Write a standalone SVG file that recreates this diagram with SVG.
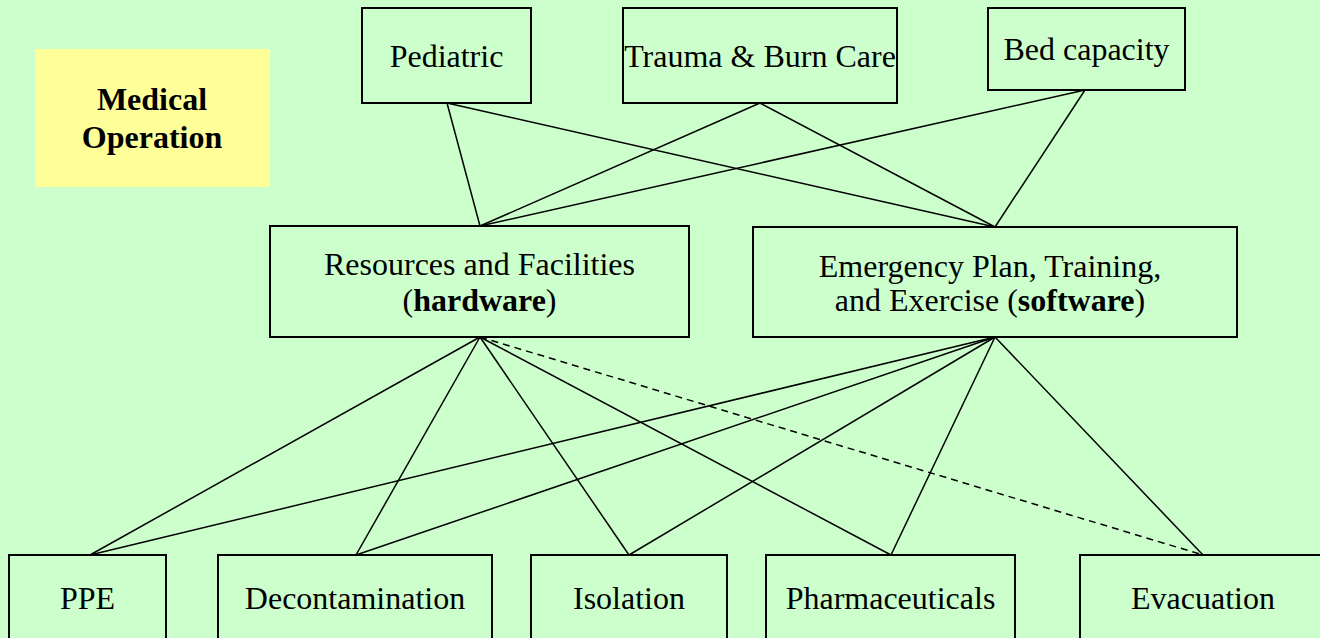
<svg xmlns="http://www.w3.org/2000/svg" width="1320" height="638" viewBox="0 0 1320 638">
<style>
.box{fill:#CCFFCC;stroke:#000;stroke-width:2}
.t{font-family:"Liberation Serif","Times New Roman",serif;font-size:32px;fill:#000;text-anchor:middle}
.b{font-weight:bold}
.c line{stroke:#000;stroke-width:1.5}
.c .d{stroke-dasharray:7 5}
</style>
<rect x="0" y="0" width="1320" height="638" fill="#CCFFCC"/>
<g class="c" id="connectors">
<line x1="447" y1="103" x2="480" y2="226"/>
<line x1="447" y1="103" x2="995" y2="227"/>
<line x1="760" y1="103" x2="480" y2="226"/>
<line x1="760" y1="103" x2="995" y2="227"/>
<line x1="1085" y1="90" x2="480" y2="226"/>
<line x1="1085" y1="90" x2="995" y2="227"/>
<line x1="480" y1="337" x2="90" y2="555"/>
<line x1="480" y1="337" x2="356" y2="555"/>
<line x1="480" y1="337" x2="629" y2="555"/>
<line x1="480" y1="337" x2="891" y2="555"/>
<line class="d" x1="480" y1="337" x2="1203" y2="555"/>
<line x1="995" y1="337" x2="90" y2="555"/>
<line x1="995" y1="337" x2="356" y2="555"/>
<line x1="995" y1="337" x2="629" y2="555"/>
<line x1="995" y1="337" x2="891" y2="555"/>
<line x1="995" y1="337" x2="1203" y2="555"/>
</g>
<g id="medical-operation">
<rect x="35" y="49" width="235" height="138" fill="#FFFF99"/>
<text class="t b" x="152" y="110">Medical</text>
<text class="t b" x="152" y="148">Operation</text>
</g>
<g id="pediatric">
<rect class="box" x="362" y="8" width="169" height="95"/>
<text class="t" x="446.5" y="67">Pediatric</text>
</g>
<g id="trauma">
<rect class="box" x="623" y="8" width="274" height="95"/>
<text class="t" x="760" y="67">Trauma &amp; Burn Care</text>
</g>
<g id="bed-capacity">
<rect class="box" x="988" y="8" width="197" height="82"/>
<text class="t" x="1086.5" y="60">Bed capacity</text>
</g>
<g id="resources">
<rect class="box" x="270" y="226" width="419" height="111"/>
<text class="t" x="479.5" y="275">Resources and Facilities</text>
<text class="t" x="479.5" y="311">(<tspan class="b">hardware</tspan>)</text>
</g>
<g id="emergency">
<rect class="box" x="753" y="227" width="484" height="110"/>
<text class="t" x="990" y="277">Emergency Plan, Training,</text>
<text class="t" x="990" y="311">and Exercise (<tspan class="b">software</tspan>)</text>
</g>
<g id="ppe">
<rect class="box" x="9" y="555" width="157" height="100"/>
<text class="t" x="87.5" y="609">PPE</text>
</g>
<g id="decontamination">
<rect class="box" x="218" y="555" width="274" height="100"/>
<text class="t" x="355" y="609">Decontamination</text>
</g>
<g id="isolation">
<rect class="box" x="531" y="555" width="196" height="100"/>
<text class="t" x="629" y="609">Isolation</text>
</g>
<g id="pharmaceuticals">
<rect class="box" x="766" y="555" width="249" height="100"/>
<text class="t" x="890.5" y="609">Pharmaceuticals</text>
</g>
<g id="evacuation">
<rect class="box" x="1080" y="555" width="260" height="100"/>
<text class="t" x="1203" y="609">Evacuation</text>
</g>
</svg>
